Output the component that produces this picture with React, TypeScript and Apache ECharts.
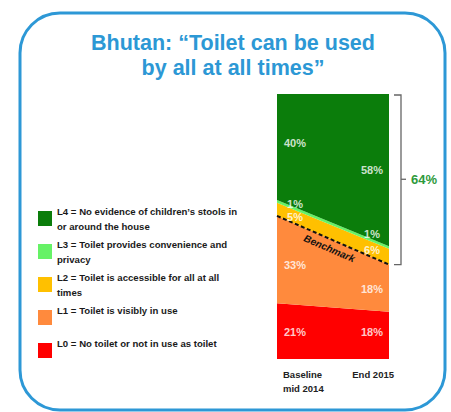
import React, { useEffect, useRef } from 'react';
import * as echarts from 'echarts';

// ---- data ----
const columns = ['Baseline\nmid 2014', 'End 2015'];
const levelNames = [
  'L0 = No toilet or not in use as toilet',
  'L1 = Toilet is visibly in use',
  'L2 = Toilet is accessible for all at all\ntimes',
  'L3 = Toilet provides convenience and\nprivacy',
  'L4 = No evidence of children’s stools in\nor around the house',
];
const levelColors = ['#FF0000', '#FF8A3D', '#FFC000', '#66F266', '#0B7D0B'];
const baseline2014 = [21, 33, 5, 1, 40];
const end2015 = [18, 18, 6, 1, 58];
const benchmarkLevel = 1; // dashed benchmark follows the top of L1
const titleText = 'Bhutan: “Toilet can be used\nby all at all times”';
const benchmarkText = 'Benchmark';

const FONT = '"Liberation Sans", Arial, sans-serif';

export default function App() {
  const ref = useRef<HTMLDivElement>(null);

  useEffect(() => {
    if (!ref.current) return;
    const chart = echarts.init(ref.current, null, { renderer: 'svg' });

    const raw = [baseline2014, end2015];
    const totals = raw.map((col) => col.reduce((a, b) => a + b, 0));
    // normalized shares per level per column
    const norm = levelNames.map((_, i) => raw.map((col, c) => (col[i] / totals[c]) * 100));
    // cumulative tops
    const cumTop = raw.map((_, c) => {
      let s = 0;
      return levelNames.map((__, i) => (s += norm[i][c]));
    });

    const labelNudge = [
      [1, -3],
      [5, 1],
      [8, -7],
      [3, -13],
      [-4, 0],
    ];
    const labelData: any[] = [];
    raw.forEach((col, c) => {
      levelNames.forEach((_, i) => {
        const bottom = i === 0 ? 0 : cumTop[c][i - 1];
        labelData.push({
          value: [c, bottom + norm[i][c] / 2],
          name: `${col[i]}%`,
          label: { offset: [c === 0 ? 18 : -17, labelNudge[i][c]] },
        });
      });
    });

    const option: any = {
      animation: false,
      backgroundColor: '#ffffff',
      title: {
        text: titleText,
        left: 233,
        top: 30,
        padding: 0,
        textAlign: 'center',
        textStyle: {
          fontFamily: FONT,
          fontSize: 21.5,
          fontWeight: 'bold',
          color: '#2C98D5',
          lineHeight: 25,
        },
      },
      legend: {
        orient: 'vertical',
        left: 38,
        top: 196,
        padding: 0,
        itemWidth: 14,
        itemHeight: 15,
        itemGap: -12,
        icon: 'rect',
        selectedMode: false,
        data: [...levelNames].reverse(),
        formatter: (n: string) => (n.includes('\n') ? n : n + '\n '),
        textStyle: {
          fontFamily: FONT,
          fontSize: 9.6,
          fontWeight: 'bold',
          color: '#1a1a1a',
          lineHeight: 15,
          padding: [15, 0, 0, 0],
        },
      },
      grid: { left: 277, right: 62, top: 94, bottom: 53 },
      xAxis: {
        type: 'category',
        boundaryGap: false,
        data: columns.map((c, i) => ({
          value: c,
          textStyle:
            i === 0
              ? { align: 'left', padding: [0, 0, 0, 6] }
              : { align: 'right', padding: [0, -5, 0, 0] },
        })),
        axisLine: { show: false },
        axisTick: { show: false },
        splitLine: { show: false },
        axisLabel: {
          interval: 0,
          margin: 8,
          fontFamily: FONT,
          fontSize: 9.5,
          fontWeight: 'bold',
          color: '#222',
          lineHeight: 14,
        },
      },
      yAxis: { type: 'value', min: 0, max: 100, show: false },
      series: [
        ...levelNames.map((name, i) => ({
          name,
          type: 'line',
          stack: 'levels',
          data: norm[i],
          symbol: 'none',
          showSymbol: false,
          lineStyle: { width: 0 },
          itemStyle: { color: levelColors[i] },
          areaStyle: { color: levelColors[i], opacity: 1 },
          z: 2,
          silent: true,
        })),
        {
          type: 'scatter',
          symbolSize: 0,
          silent: true,
          z: 5,
          data: labelData,
          label: {
            show: true,
            position: 'inside',
            formatter: '{b}',
            color: '#ffffff',
            fontFamily: FONT,
            fontSize: 11,
            fontWeight: 'bold',
          },
          markLine: {
            silent: true,
            symbol: ['none', 'none'],
            data: [
              [
                { coord: [0, cumTop[0][benchmarkLevel]] },
                { coord: [1, cumTop[1][benchmarkLevel]] },
              ],
            ],
            lineStyle: { color: '#111111', type: [4, 2.5], width: 2 },
            label: {
              show: true,
              position: 'insideMiddleBottom',
              formatter: benchmarkText,
              color: '#111111',
              fontFamily: FONT,
              fontSize: 10,
              fontWeight: 'bold',
              fontStyle: 'italic',
              distance: 4,
            },
          },
        },
      ],
    };

    chart.setOption(option);

    const topPx = chart.convertToPixel({ gridIndex: 0 }, [1, 100]) as number[];
    const botPx = chart.convertToPixel({ gridIndex: 0 }, [1, cumTop[1][benchmarkLevel]]) as number[];
    const xHook = topPx[0] + 5;
    const xBar = topPx[0] + 12;
    const midY = (topPx[1] + botPx[1]) / 2;
    const share = 100 - (end2015[0] + end2015[1]);

    chart.setOption({
      graphic: [
        {
          type: 'rect',
          shape: { x: 20, y: 13, width: 425, height: 397, r: 40 },
          style: { fill: 'none', stroke: '#2D98D6', lineWidth: 3 },
          silent: true,
        },
        {
          type: 'polyline',
          shape: {
            points: [
              [xHook, topPx[1] + 1],
              [xBar, topPx[1] + 1],
              [xBar, botPx[1]],
              [xHook, botPx[1]],
            ],
          },
          style: { stroke: '#666666', lineWidth: 1.3, fill: 'none' },
          silent: true,
        },
        {
          type: 'line',
          shape: { x1: xBar, y1: midY, x2: xBar + 5, y2: midY },
          style: { stroke: '#666666', lineWidth: 1.3 },
          silent: true,
        },
        {
          type: 'text',
          x: xBar + 10,
          y: midY,
          style: {
            text: `${share}%`,
            fill: '#2E9A3C',
            font: `bold 13px ${FONT}`,
            verticalAlign: 'middle',
            align: 'left',
          },
          silent: true,
        },
      ],
    });

    return () => chart.dispose();
  }, []);

  return (
    <div
      ref={ref}
      style={{ position: 'fixed', left: 0, top: 0, width: 451, height: 412, background: '#fff' }}
    />
  );
}
